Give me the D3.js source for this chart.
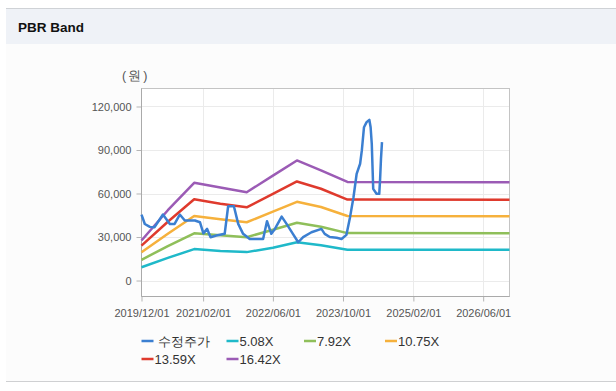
<!DOCTYPE html>
<html>
<head>
<meta charset="utf-8">
<script src="https://cdn.jsdelivr.net/npm/d3@7"></script>
<style>
  body { margin: 0; background: #ffffff; font-family: "Liberation Sans", Arial, sans-serif; }
</style>
</head>
<body>
<div id="my_dataviz"></div>
<script>
// price series (수정주가)
var priceDates = ["2019-12-01","2019-12-24","2020-01-28","2020-03-01","2020-04-28","2020-06-15","2020-07-18",
  "2020-08-23","2020-09-27","2020-12-06","2021-01-10","2021-02-03","2021-03-01","2021-03-25","2021-05-04",
  "2021-07-01","2021-07-25","2021-09-03","2021-10-03","2021-11-06","2021-12-22","2022-03-25","2022-04-21",
  "2022-05-21","2022-06-15","2022-08-01","2022-09-04","2022-10-18","2022-11-24","2022-12-28","2023-02-24",
  "2023-05-04","2023-05-27","2023-07-01","2023-08-18","2023-09-21","2023-10-25","2023-11-19","2023-12-13",
  "2024-01-04","2024-01-28","2024-02-09","2024-02-24","2024-03-13","2024-04-01","2024-04-10","2024-04-18",
  "2024-04-24","2024-04-28","2024-05-21","2024-06-09","2024-06-15","2024-06-21","2024-06-28"];
var priceValues = [45500,39000,37000,36800,45500,39000,39000,
  45500,41400,41400,40200,32500,35600,29900,31000,
  32200,51200,51200,39100,32200,28700,28700,40900,
  32200,35600,44100,39100,32200,26400,29900,33300,
  35600,32200,30000,29500,28700,31500,43700,57400,
  73600,80500,89700,105700,109200,110800,105700,94300,
  75900,63200,59800,59800,70100,83900,95400];

// PBR band series
var bandDates = ["2019-12-01","2020-06-01","2020-12-01","2021-06-01","2021-12-01","2022-06-01",
  "2022-11-15","2023-05-01","2023-11-01","2026-12-01"];
var band508 = [9200,15600,21700,20400,19600,22600,26400,24400,21300,21300];
var band792 = [14300,23800,32600,31200,29900,35000,39800,37100,32700,32600];
var band1075 = [19500,32200,44500,42200,40200,47500,54300,50700,44500,44300];
var band1359 = [24100,40500,56000,53000,50500,59700,68300,63300,55800,55700];
var band1642 = [27600,48500,67400,64200,60900,72300,82800,76000,68000,67800];

var seriesNames = ["수정주가","5.08X","7.92X","10.75X","13.59X","16.42X"];
var seriesColors = ["#3b7fd1","#1fb9c9","#8fbf5a","#f6b13c","#df3a2d","#9b5bb5"];

var yTicks = [0,30000,60000,90000,120000];
var xTickLabels = ["2019/12/01","2021/02/01","2022/06/01","2023/10/01","2025/02/01","2026/06/01"];

var W = 616, H = 391;
var parse = d3.timeParse("%Y-%m-%d");
var parseTick = d3.timeParse("%Y/%m/%d");

var svg = d3.select("#my_dataviz")
  .append("svg")
    .attr("width", W)
    .attr("height", H)
    .style("display", "block");

// page panel + header
svg.append("rect").attr("x", 6).attr("y", 8).attr("width", W - 6).attr("height", 374).attr("fill", "#fcfcfc");
svg.append("rect").attr("x", 6).attr("y", 8).attr("width", W - 6).attr("height", 36).attr("fill", "#eff2f7");
svg.append("line").attr("x1", 6).attr("x2", W).attr("y1", 8.5).attr("y2", 8.5).attr("stroke", "#cfd2d6");
svg.append("line").attr("x1", 6).attr("x2", W).attr("y1", 381.5).attr("y2", 381.5).attr("stroke", "#cfd0d2");
svg.append("text")
  .attr("x", 18).attr("y", 32)
  .attr("font-size", "13.5px").attr("font-weight", "bold")
  .attr("fill", "#111")
  .text("PBR Band");

// plot area
var pLeft = 141.5, pRight = 509.5, pTop = 88.5, pBottom = 296.5;

var xScale = d3.scaleTime()
  .domain([parse("2019-12-01"), parse("2026-12-01")])
  .range([pLeft, pRight]);

var yScale = d3.scaleLinear()
  .domain([-11000, 132400])
  .range([pBottom, pTop]);

svg.append("rect")
  .attr("x", pLeft).attr("y", pTop)
  .attr("width", pRight - pLeft).attr("height", pBottom - pTop)
  .attr("fill", "#ffffff");

// grid
var xTickDates = xTickLabels.map(function(d) { return parseTick(d); });
svg.append("g").selectAll("line")
  .data(xTickDates.slice(1))
  .enter().append("line")
    .attr("x1", function(d) { return Math.round(xScale(d)) + 0.5; })
    .attr("x2", function(d) { return Math.round(xScale(d)) + 0.5; })
    .attr("y1", pTop).attr("y2", pBottom)
    .attr("stroke", "#ebebeb");
svg.append("g").selectAll("line")
  .data(yTicks)
  .enter().append("line")
    .attr("x1", pLeft).attr("x2", pRight)
    .attr("y1", function(d) { return Math.round(yScale(d)) + 0.5; })
    .attr("y2", function(d) { return Math.round(yScale(d)) + 0.5; })
    .attr("stroke", "#ebebeb");

// axes
var yAxis = d3.axisLeft(yScale)
  .tickValues(yTicks)
  .tickSize(5)
  .tickPadding(5)
  .tickFormat(d3.format(","));
var gy = svg.append("g")
  .attr("transform", "translate(" + pLeft + ",0)")
  .call(yAxis);

var xAxis = d3.axisBottom(xScale)
  .tickValues(xTickDates)
  .tickSize(5)
  .tickPadding(8)
  .tickFormat(d3.timeFormat("%Y/%m/%d"));
var gx = svg.append("g")
  .attr("transform", "translate(0," + pBottom + ")")
  .call(xAxis);

[gx, gy].forEach(function(g) {
  g.select(".domain").remove();
  g.selectAll("line").attr("stroke", "#b5b5b5");
  g.selectAll("text")
    .attr("fill", "#555")
    .style("font-size", "11px")
    .style("font-family", "'Liberation Sans', Arial, sans-serif");
});

// frame
svg.append("rect")
  .attr("x", pLeft).attr("y", pTop)
  .attr("width", pRight - pLeft).attr("height", pBottom - pTop)
  .attr("fill", "none")
  .attr("stroke", "#c4c4c4");
svg.append("line")
  .attr("x1", pLeft).attr("x2", pLeft).attr("y1", pTop).attr("y2", pBottom)
  .attr("stroke", "#aaa");
svg.append("line")
  .attr("x1", pLeft).attr("x2", pRight).attr("y1", pBottom).attr("y2", pBottom)
  .attr("stroke", "#aaa");

svg.append("text")
  .attr("x", 122).attr("y", 80)
  .attr("font-size", "12.5px")
  .attr("letter-spacing", "2px")
  .attr("fill", "#555")
  .text("(원)");

// lines
var line = d3.line()
  .x(function(d) { return xScale(d.date); })
  .y(function(d) { return yScale(d.value); });

function toPoints(dates, values) {
  return dates.map(function(d, i) { return {date: parse(d), value: values[i]}; });
}

var series = [
  toPoints(priceDates, priceValues),
  toPoints(bandDates, band508),
  toPoints(bandDates, band792),
  toPoints(bandDates, band1075),
  toPoints(bandDates, band1359),
  toPoints(bandDates, band1642)
];

// bands first, price on top
[1,2,3,4,5,0].forEach(function(i) {
  svg.append("path")
    .datum(series[i])
    .attr("d", line)
    .attr("fill", "none")
    .attr("stroke", seriesColors[i])
    .attr("stroke-width", 2.5)
    .attr("stroke-linejoin", "round");
});

// legend
var legendPos = [[141.5,341],[226.5,341],[304,341],[385,341],[141.5,359],[226.5,359]];
var lg = svg.append("g").selectAll("g")
  .data(seriesNames)
  .enter().append("g")
    .attr("transform", function(d, i) { return "translate(" + legendPos[i][0] + "," + legendPos[i][1] + ")"; });
lg.append("line")
  .attr("x1", 0).attr("x2", 12)
  .attr("stroke", function(d, i) { return seriesColors[i]; })
  .attr("stroke-width", 2.5);
lg.append("text")
  .attr("x", function(d, i) { return i == 0 ? 16 : 13; })
  .attr("dy", "0.36em")
  .attr("font-size", "13px")
  .attr("fill", "#333")
  .text(function(d) { return d; });
</script>
</body>
</html>
